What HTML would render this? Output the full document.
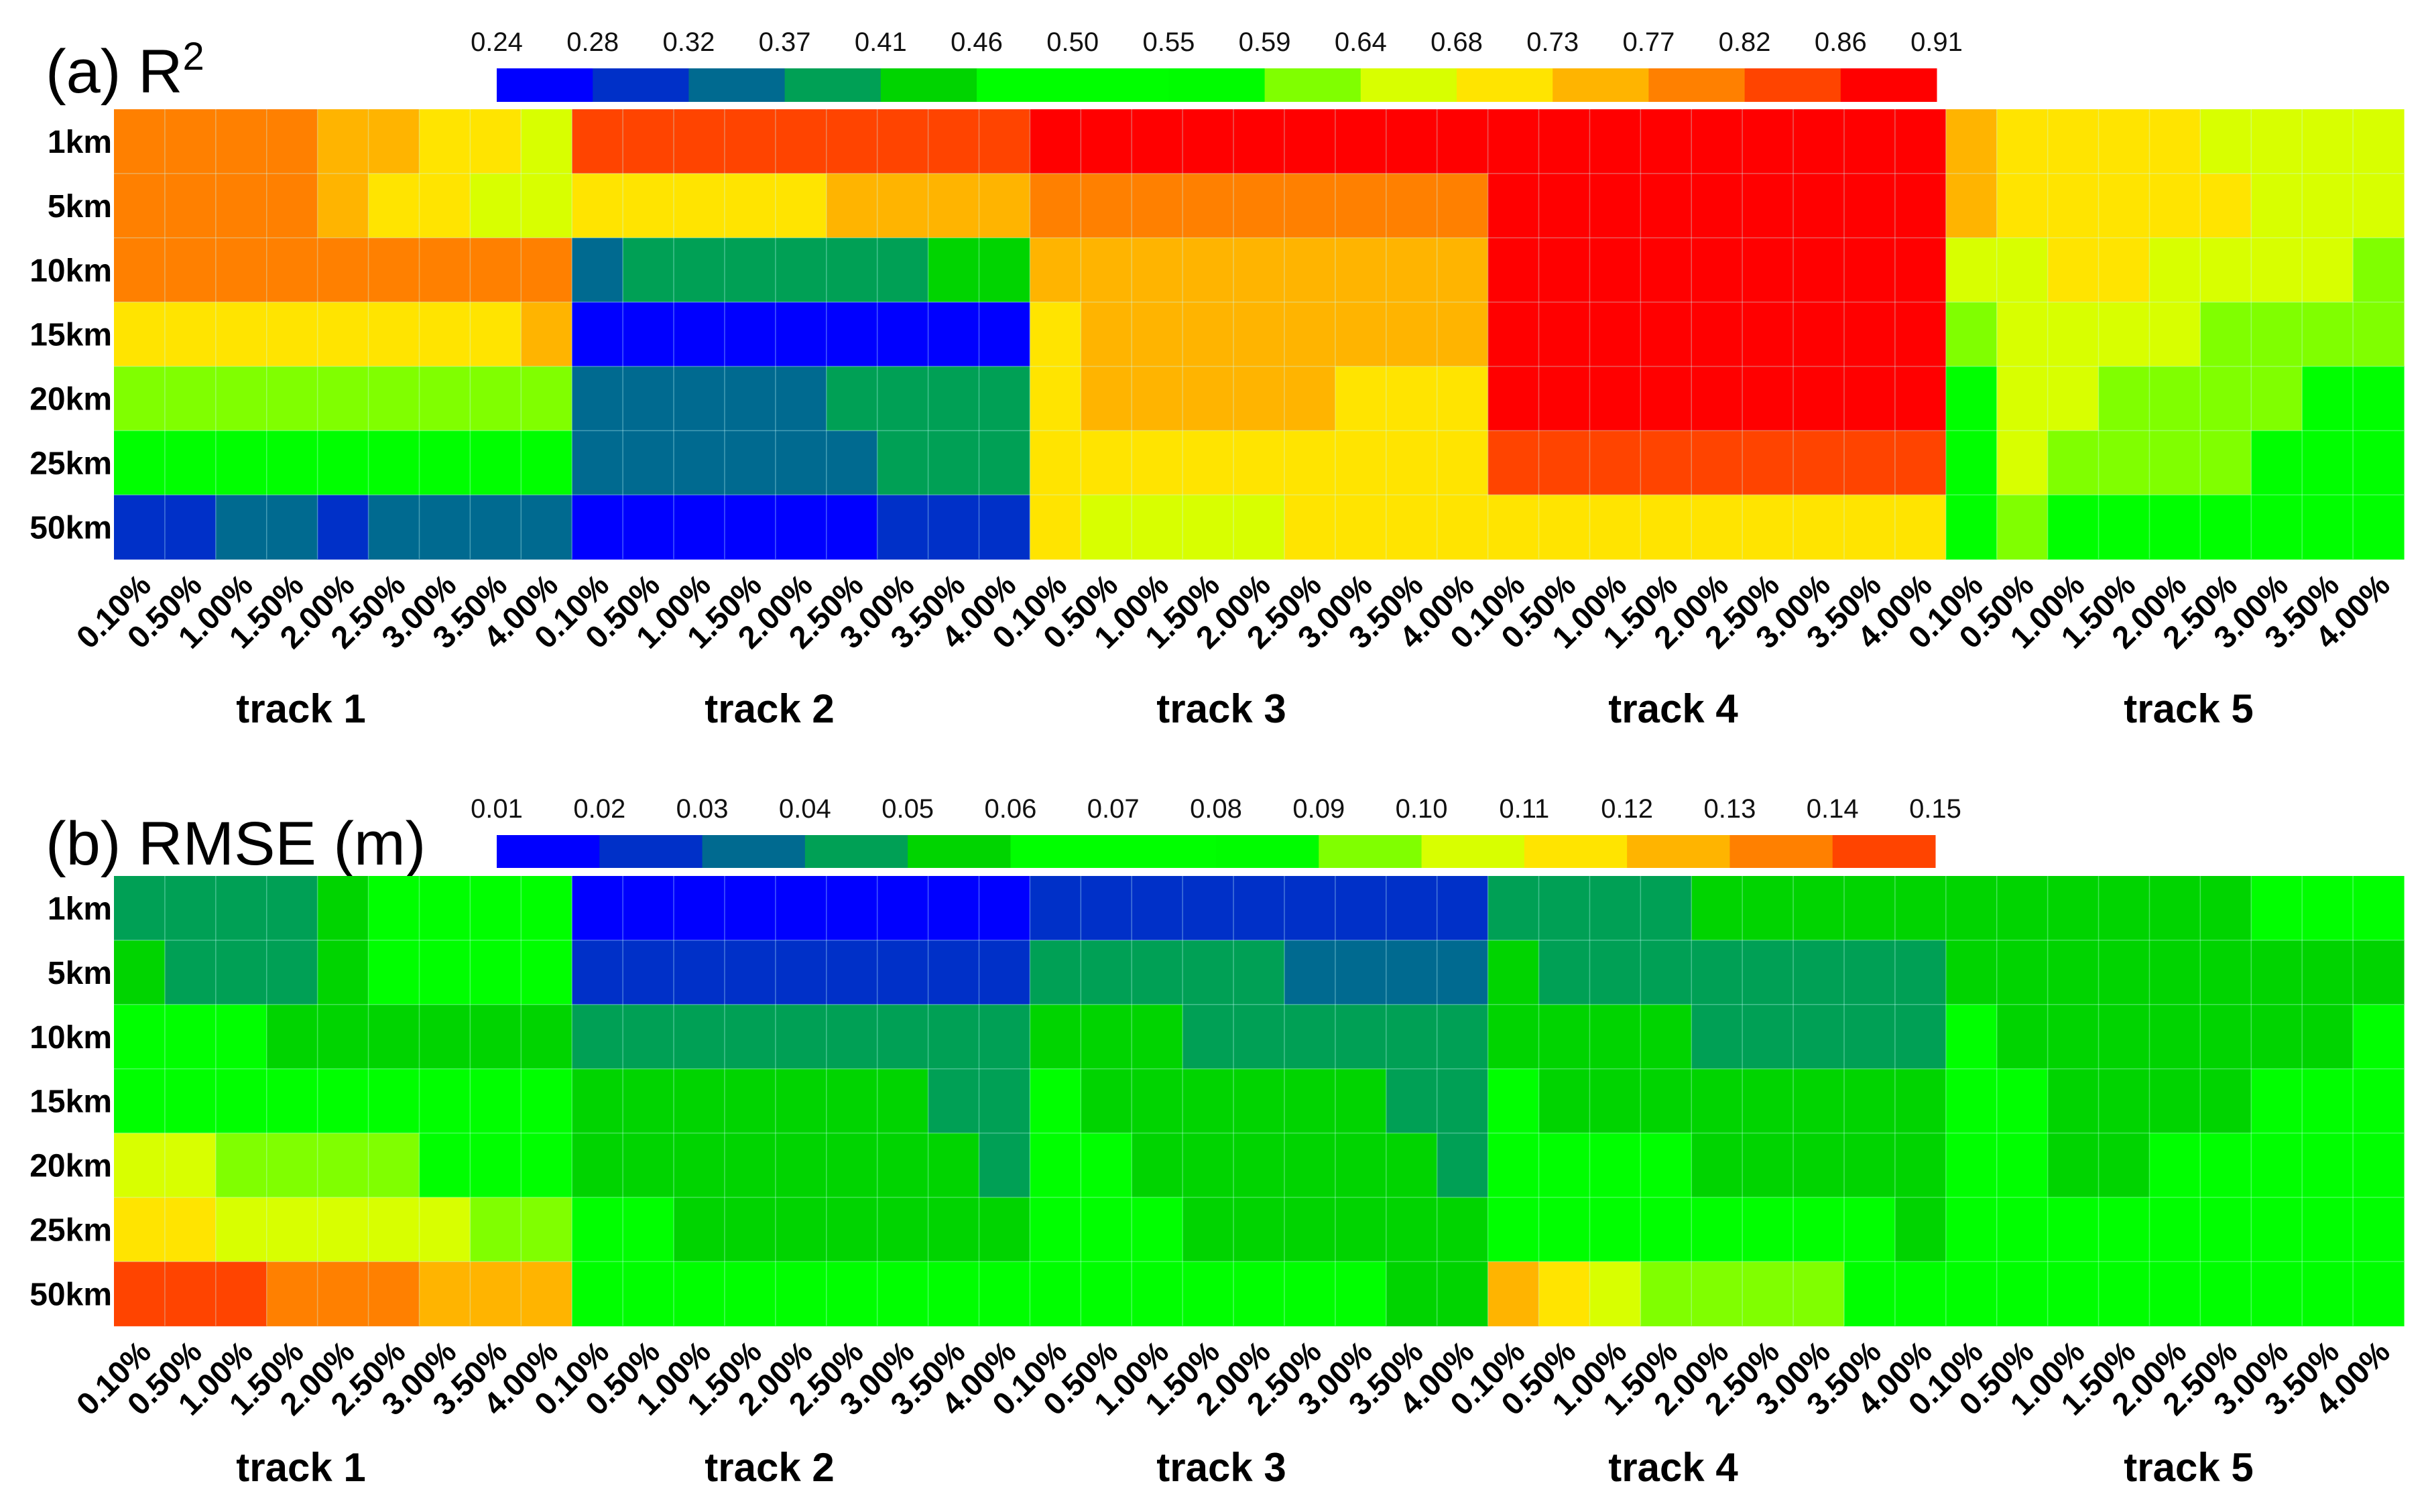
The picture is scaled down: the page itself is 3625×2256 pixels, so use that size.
<!DOCTYPE html>
<html><head><meta charset="utf-8">
<style>
html,body{margin:0;padding:0;background:#fff;}
svg{display:block;}
text{font-family:"Liberation Sans",sans-serif;}
</style></head>
<body>
<svg id="fig" width="3625" height="2256" viewBox="0 0 3625 2256" xmlns="http://www.w3.org/2000/svg"></svg>
<script>
// ---- data ----
const rowLabels = ["1km","5km","10km","15km","20km","25km","50km"];
const tickLabels = ["0.10%","0.50%","1.00%","1.50%","2.00%","2.50%","3.00%","3.50%","4.00%"];
const trackLabels = ["track 1","track 2","track 3","track 4","track 5"];
const r2Ticks = ["0.24","0.28","0.32","0.37","0.41","0.46","0.50","0.55","0.59","0.64","0.68","0.73","0.77","0.82","0.86","0.91"];
const rmseTicks = ["0.01","0.02","0.03","0.04","0.05","0.06","0.07","0.08","0.09","0.10","0.11","0.12","0.13","0.14","0.15"];
const r2Colors = ["#0000ff","#0030c8","#006a90","#00a055","#00d400","#00ff00","#00ff00","#00fc00","#80ff00","#d8ff00","#ffe400","#ffb400","#ff8000","#ff4400","#ff0000"];
const rmseColors = ["#0000ff","#0030c8","#006a90","#00a055","#00d400","#00ff00","#00ff00","#00fc00","#80ff00","#d8ff00","#ffe400","#ffb400","#ff8000","#ff4400"];

const r2Values = [
[0.80,0.80,0.80,0.80,0.75,0.75,0.71,0.71,0.66, 0.84,0.84,0.84,0.84,0.84,0.84,0.84,0.84,0.84, 0.89,0.89,0.89,0.89,0.89,0.89,0.89,0.89,0.89, 0.89,0.89,0.89,0.89,0.89,0.89,0.89,0.89,0.89, 0.75,0.71,0.71,0.71,0.71,0.66,0.66,0.66,0.66],
[0.80,0.80,0.80,0.80,0.75,0.71,0.71,0.66,0.66, 0.71,0.71,0.71,0.71,0.71,0.75,0.75,0.75,0.75, 0.80,0.80,0.80,0.80,0.80,0.80,0.80,0.80,0.80, 0.89,0.89,0.89,0.89,0.89,0.89,0.89,0.89,0.89, 0.75,0.71,0.71,0.71,0.71,0.71,0.66,0.66,0.66],
[0.80,0.80,0.80,0.80,0.80,0.80,0.80,0.80,0.80, 0.35,0.40,0.40,0.40,0.40,0.40,0.40,0.44,0.44, 0.75,0.75,0.75,0.75,0.75,0.75,0.75,0.75,0.75, 0.89,0.89,0.89,0.89,0.89,0.89,0.89,0.89,0.89, 0.66,0.66,0.71,0.71,0.66,0.66,0.66,0.66,0.62],
[0.71,0.71,0.71,0.71,0.71,0.71,0.71,0.71,0.75, 0.26,0.26,0.26,0.26,0.26,0.26,0.26,0.26,0.26, 0.71,0.75,0.75,0.75,0.75,0.75,0.75,0.75,0.75, 0.89,0.89,0.89,0.89,0.89,0.89,0.89,0.89,0.89, 0.62,0.66,0.66,0.66,0.66,0.62,0.62,0.62,0.62],
[0.62,0.62,0.62,0.62,0.62,0.62,0.62,0.62,0.62, 0.35,0.35,0.35,0.35,0.35,0.40,0.40,0.40,0.40, 0.71,0.75,0.75,0.75,0.75,0.75,0.71,0.71,0.71, 0.89,0.89,0.89,0.89,0.89,0.89,0.89,0.89,0.89, 0.49,0.66,0.66,0.62,0.62,0.62,0.62,0.49,0.49],
[0.49,0.49,0.49,0.49,0.49,0.49,0.49,0.49,0.49, 0.35,0.35,0.35,0.35,0.35,0.35,0.40,0.40,0.40, 0.71,0.71,0.71,0.71,0.71,0.71,0.71,0.71,0.71, 0.84,0.84,0.84,0.84,0.84,0.84,0.84,0.84,0.84, 0.49,0.66,0.62,0.62,0.62,0.62,0.49,0.49,0.49],
[0.31,0.31,0.35,0.35,0.31,0.35,0.35,0.35,0.35, 0.26,0.26,0.26,0.26,0.26,0.26,0.31,0.31,0.31, 0.71,0.66,0.66,0.66,0.66,0.71,0.71,0.71,0.71, 0.71,0.71,0.71,0.71,0.71,0.71,0.71,0.71,0.71, 0.49,0.62,0.49,0.49,0.49,0.49,0.49,0.49,0.49]
];

const rmseValues = [
[0.045,0.045,0.045,0.045,0.055,0.065,0.065,0.065,0.065, 0.015,0.015,0.015,0.015,0.015,0.015,0.015,0.015,0.015, 0.025,0.025,0.025,0.025,0.025,0.025,0.025,0.025,0.025, 0.045,0.045,0.045,0.045,0.055,0.055,0.055,0.055,0.055, 0.055,0.055,0.055,0.055,0.055,0.055,0.065,0.065,0.065],
[0.055,0.045,0.045,0.045,0.055,0.065,0.065,0.065,0.065, 0.025,0.025,0.025,0.025,0.025,0.025,0.025,0.025,0.025, 0.045,0.045,0.045,0.045,0.045,0.035,0.035,0.035,0.035, 0.055,0.045,0.045,0.045,0.045,0.045,0.045,0.045,0.045, 0.055,0.055,0.055,0.055,0.055,0.055,0.055,0.055,0.055],
[0.065,0.065,0.065,0.055,0.055,0.055,0.055,0.055,0.055, 0.045,0.045,0.045,0.045,0.045,0.045,0.045,0.045,0.045, 0.055,0.055,0.055,0.045,0.045,0.045,0.045,0.045,0.045, 0.055,0.055,0.055,0.055,0.045,0.045,0.045,0.045,0.045, 0.065,0.055,0.055,0.055,0.055,0.055,0.055,0.055,0.065],
[0.065,0.065,0.065,0.065,0.065,0.065,0.065,0.065,0.065, 0.055,0.055,0.055,0.055,0.055,0.055,0.055,0.045,0.045, 0.065,0.055,0.055,0.055,0.055,0.055,0.055,0.045,0.045, 0.065,0.055,0.055,0.055,0.055,0.055,0.055,0.055,0.055, 0.065,0.065,0.055,0.055,0.055,0.055,0.065,0.065,0.065],
[0.105,0.105,0.095,0.095,0.095,0.095,0.065,0.065,0.065, 0.055,0.055,0.055,0.055,0.055,0.055,0.055,0.055,0.045, 0.065,0.065,0.055,0.055,0.055,0.055,0.055,0.055,0.045, 0.065,0.065,0.065,0.065,0.055,0.055,0.055,0.055,0.055, 0.065,0.065,0.055,0.055,0.065,0.065,0.065,0.065,0.065],
[0.115,0.115,0.105,0.105,0.105,0.105,0.105,0.095,0.095, 0.065,0.065,0.055,0.055,0.055,0.055,0.055,0.055,0.055, 0.065,0.065,0.065,0.055,0.055,0.055,0.055,0.055,0.055, 0.065,0.065,0.065,0.065,0.065,0.065,0.065,0.065,0.055, 0.065,0.065,0.065,0.065,0.065,0.065,0.065,0.065,0.065],
[0.145,0.145,0.145,0.135,0.135,0.135,0.125,0.125,0.125, 0.065,0.065,0.065,0.065,0.065,0.065,0.065,0.065,0.065, 0.065,0.065,0.065,0.065,0.065,0.065,0.065,0.055,0.055, 0.125,0.115,0.105,0.095,0.095,0.095,0.095,0.065,0.065, 0.065,0.065,0.065,0.065,0.065,0.065,0.065,0.065,0.065]
];

// ---- drawing ----
const NS = "http://www.w3.org/2000/svg";
const svg = document.getElementById("fig");
function mk(tag, attrs, parent){
  const e = document.createElementNS(NS, tag);
  for (const k in attrs) e.setAttribute(k, attrs[k]);
  (parent||svg).appendChild(e);
  return e;
}
const X0 = 170, X1 = 3586, NCOL = 45, NROW = 7, ROWH = 95.9;
const colW = (X1 - X0) / NCOL;
function xScale(i){ return X0 + i * colW; }

function colorIndex(v, lo, step, n){
  let k = Math.floor((v - lo) / step + 1e-9);
  return Math.max(0, Math.min(n - 1, k));
}

function drawPanel(p){
  const g = mk("g", {});
  
  
  const t = mk("text", {x: 68, y: p.titleY, "font-size": 92, fill: "#000"}, g);
  
  
  t.innerHTML = p.title;
  const cbW = (p.cbX1 - p.cbX0) / p.colors.length;
  p.colors.forEach((c, i) => {
    const r = mk("rect", {x: p.cbX0 + i * cbW, y: p.cbY, width: cbW + 0.5, height: p.cbH, fill: c}, g);
    
    
  });
  p.ticks.forEach((s, i) => {
    const tx = mk("text", {x: p.cbX0 + i * cbW, y: p.cbY - 26, "font-size": 40, "text-anchor": "middle", fill: "#111"}, g);
    
    
    tx.textContent = s;
  });
  const vals = p.values;
  for (let r = 0; r < NROW; r++){
    for (let c = 0; c < NCOL; c++){
      const v = vals[r][c];
      const k = colorIndex(v, p.lo, p.step, p.colors.length);
      const rect = mk("rect", {x: xScale(c), y: p.top + r * ROWH, width: colW + 0.6, height: ROWH + 0.6, fill: p.colors[k]}, g);
      
      
    }
  }
  for (let c = 1; c < NCOL; c++){
    const l = mk("line", {x1: xScale(c), x2: xScale(c), y1: p.top, y2: p.top + NROW * ROWH, stroke: "rgba(200,255,255,0.35)", "stroke-width": 1.5}, g);
    
    
  }
  for (let r = 1; r < NROW; r++){
    const l = mk("line", {x1: X0, x2: X1, y1: p.top + r * ROWH, y2: p.top + r * ROWH, stroke: "rgba(200,255,255,0.35)", "stroke-width": 1.5}, g);
    
    
  }
  rowLabels.forEach((s, r) => {
    const tx = mk("text", {x: 167, y: p.top + r * ROWH + ROWH / 2 + 17, "font-size": 48, "font-weight": "bold", "text-anchor": "end", fill: "#000"}, g);
    
    
    tx.textContent = s;
  });
  const bottom = p.top + NROW * ROWH;
  for (let c = 0; c < NCOL; c++){
    const cx = xScale(c) + colW / 2 + 20;
    const cy = bottom + 42;
    const tx = mk("text", {x: cx, y: cy, "font-size": 47, "font-weight": "bold", "text-anchor": "end", fill: "#000", transform: "rotate(-45 " + cx + " " + cy + ")"}, g);
    
    
    tx.textContent = tickLabels[c % 9];
  }
  trackLabels.forEach((s, i) => {
    const tx = mk("text", {x: p.trackX[i], y: p.trackY, "font-size": 60, "font-weight": "bold", "text-anchor": "middle", fill: "#000"}, g);
    
    
    tx.textContent = s;
  });
}

drawPanel({
  name: "r2-panel", title: '(a) R<tspan font-size="58" dy="-34">2</tspan>', titleY: 138,
  cbX0: 741, cbX1: 2889, cbY: 102, cbH: 50, colors: r2Colors, ticks: r2Ticks,
  lo: 0.24, step: 0.67 / 15, values: r2Values, top: 163,
  trackX: [449, 1148, 1822, 2496, 3265], trackY: 1078
});
drawPanel({
  name: "rmse-panel", title: '(b) RMSE (m)', titleY: 1290,
  cbX0: 741, cbX1: 2887, cbY: 1246, cbH: 49, colors: rmseColors, ticks: rmseTicks,
  lo: 0.01, step: 0.01, values: rmseValues, top: 1307,
  trackX: [449, 1148, 1822, 2496, 3265], trackY: 2210
});
</script>
</body></html>
